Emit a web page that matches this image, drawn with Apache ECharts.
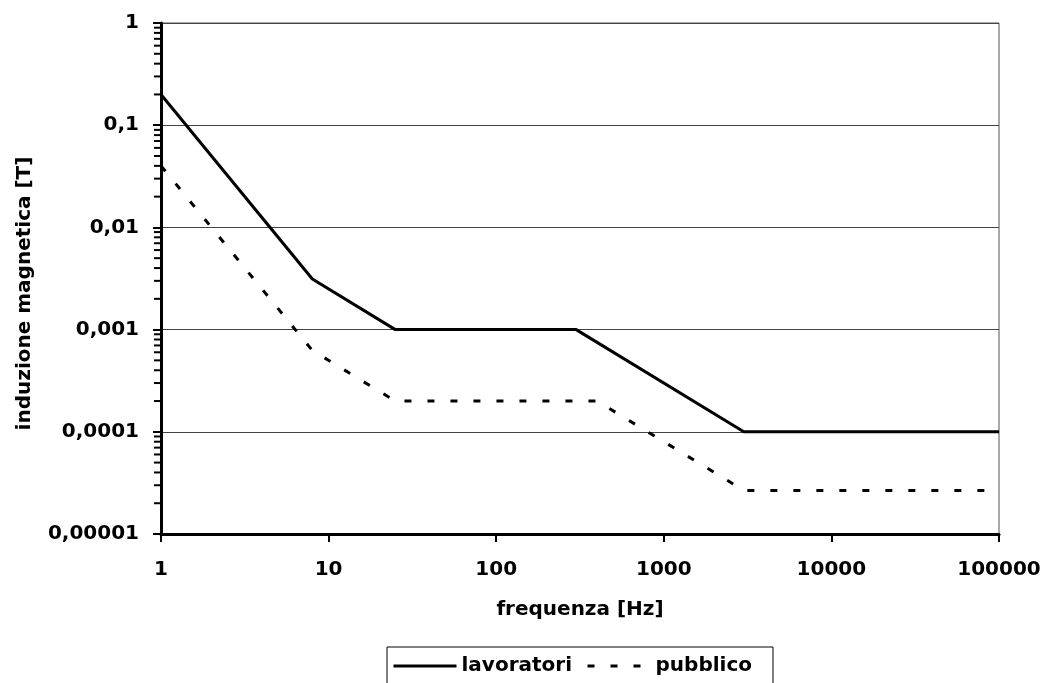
<!DOCTYPE html>
<html lang="it">

<head>
    <meta charset="UTF-8">
    <title>induzione magnetica</title>
    <script src="https://cdn.jsdelivr.net/npm/echarts@6/dist/echarts.min.js"></script>
    <style>
        body { margin: 0; background: #fff; }
        #chart { width: 1044px; height: 683px; }
    </style>
</head>

<body>
    <div id="chart"></div>
    <script>
        // dati (frequenza in Hz, induzione in T)
        var freqLavoratori = [1, 8, 25, 300, 3000, 100000];
        var valLavoratori = [0.2, 0.003125, 0.001, 0.001, 0.0001, 0.0001];
        var freqPubblico = [1, 8, 25, 400, 3000, 100000];
        var valPubblico = [0.04, 0.000625, 0.0002, 0.0002, 0.0000267, 0.0000267];

        var xLabels = ['1', '10', '100', '1000', '10000', '100000'];
        var yLabels = ['0,00001', '0,0001', '0,001', '0,01', '0,1', '1'];

        // tacche secondarie dell'asse y (2..9 per ogni decade)
        var minorY = [];
        for (var e = -5; e < 0; e++) {
            for (var m = 2; m <= 9; m++) {
                minorY.push(m * Math.pow(10, e));
            }
        }

        var font = 'DejaVu Sans';

        function pairs(xs, ys) {
            return xs.map(function (x, i) { return [x, ys[i]]; });
        }

        var chart = echarts.init(document.getElementById('chart'));
        var option = {
            animation: false,
            grid: {
                left: 161,
                right: 45,
                top: 23,
                bottom: 149,
                show: true,
                borderColor: '#555',
                borderWidth: 1
            },
            legend: {
                data: ['lavoratori', 'pubblico'],
                left: 387,
                top: 647,
                padding: [9, 21, 20, 5],
                itemWidth: 63,
                itemHeight: 14,
                itemGap: 14,
                borderColor: '#000',
                borderWidth: 1,
                itemStyle: { opacity: 0 },
                lineStyle: { width: 3 },
                textStyle: { fontFamily: font, fontWeight: 'bold', fontSize: 20, color: '#000' }
            },
            xAxis: {
                type: 'log',
                logBase: 10,
                min: 1,
                max: 100000,
                name: 'frequenza [Hz]',
                nameLocation: 'middle',
                nameGap: 66,
                nameTextStyle: { fontFamily: font, fontWeight: 'bold', fontSize: 20, color: '#000' },
                axisLine: { lineStyle: { color: '#000', width: 3 } },
                axisTick: { length: 8, lineStyle: { color: '#000', width: 2 } },
                splitLine: { show: false },
                axisLabel: {
                    margin: 26,
                    fontFamily: font,
                    fontWeight: 'bold',
                    fontSize: 20,
                    color: '#000',
                    formatter: function (v) { return xLabels[Math.round(Math.log10(v))]; }
                }
            },
            yAxis: {
                type: 'log',
                logBase: 10,
                min: 0.00001,
                max: 1,
                name: 'induzione magnetica [T]',
                nameLocation: 'middle',
                nameGap: 126,
                nameTextStyle: {
                    fontFamily: font, fontWeight: 'bold', fontSize: 20, color: '#000',
                    padding: [0, 30, 0, 0]
                },
                axisLine: { show: true, lineStyle: { color: '#000', width: 3 } },
                axisTick: { show: true, length: 8, lineStyle: { color: '#000', width: 2 } },
                splitLine: { show: true, lineStyle: { color: '#444', width: 1 } },
                axisLabel: {
                    margin: 22,
                    fontFamily: font,
                    fontWeight: 'bold',
                    fontSize: 20,
                    color: '#000',
                    formatter: function (v) { return yLabels[Math.round(Math.log10(v)) + 5]; }
                }
            },
            series: [{
                name: 'lavoratori',
                type: 'line',
                symbol: 'none',
                data: pairs(freqLavoratori, valLavoratori),
                lineStyle: { color: '#000', width: 3 },
                itemStyle: { color: '#000' }
            }, {
                name: 'pubblico',
                type: 'line',
                symbol: 'none',
                data: pairs(freqPubblico, valPubblico),
                lineStyle: { color: '#000', width: 3, type: [7, 16] },
                itemStyle: { color: '#000' }
            }, {
                name: 'minor',
                type: 'custom',
                silent: true,
                clip: false,
                data: minorY.map(function (v) { return [1, v]; }),
                renderItem: function (params, api) {
                    var p = api.coord([api.value(0), api.value(1)]);
                    return {
                        type: 'line',
                        shape: { x1: p[0] - 7, y1: p[1], x2: p[0], y2: p[1] },
                        style: { stroke: '#000', lineWidth: 2 }
                    };
                }
            }]
        };
        chart.setOption(option);
    </script>
</body>

</html>
